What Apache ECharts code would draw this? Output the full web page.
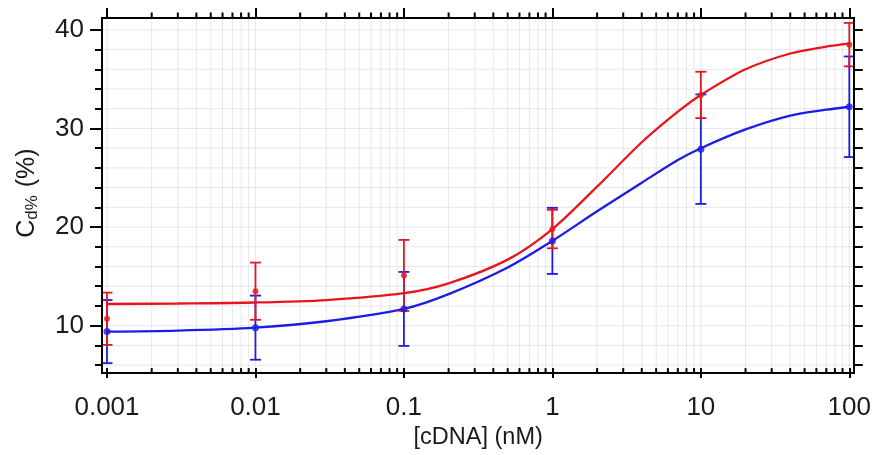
<!DOCTYPE html>
<html>
<head>
<meta charset="utf-8">
<script src="https://cdn.jsdelivr.net/npm/echarts@6/dist/echarts.min.js"></script>
<style>
  html, body { margin: 0; padding: 0; background: #ffffff; }
  #chart { width: 874px; height: 455px; }
</style>
</head>
<body>
<div id="chart"></div>
<script>
// Measured points: concentration (nM), mean Cd% and error half-width
const concentrations = [0.001, 0.01, 0.1, 1, 10, 100];
const redMean  = [10.7, 13.5, 15.1, 19.8, 33.4, 38.5];
const redErr   = [2.65, 2.9, 3.6, 1.95, 2.35, 2.2];
const blueMean = [9.4, 9.8, 11.7, 18.6, 27.9, 32.2];
const blueErr  = [3.2, 3.25, 3.75, 3.35, 5.55, 5.1];

// Fitted dose-response curves, sampled along the concentration axis
const fitConc = [0.001, 0.003, 0.01, 0.03, 0.1, 0.2, 0.5, 1, 2, 4, 7, 10, 20, 40, 70, 100];
const redFit  = [12.2, 12.25, 12.35, 12.6, 13.3, 14.3, 16.7, 19.8, 24.1, 28.6, 31.7, 33.4, 36.0, 37.6, 38.3, 38.6];
const blueFit = [9.4, 9.5, 9.8, 10.45, 11.7, 13.2, 15.9, 18.6, 21.6, 24.5, 26.8, 28.0, 29.9, 31.3, 31.9, 32.2];

// Axis ticks
const xMajorTicks = [0.001, 0.01, 0.1, 1, 10, 100];
const xTickLabels = ['0.001', '0.01', '0.1', '1', '10', '100'];
const yMajorTicks = [10, 20, 30, 40];
const yMinorTicks = [6, 8, 12, 14, 16, 18, 22, 24, 26, 28, 32, 34, 36, 38];
const yAllTicks   = [6, 8, 10, 12, 14, 16, 18, 20, 22, 24, 26, 28, 30, 32, 34, 36, 38, 40];

const X_MIN = 0.001, X_MAX = 100;
const Y_MIN = 5.7, Y_MAX = 41.2;

// 2..9 subdivisions inside every decade of the log axis
const xMinorTicks = [];
for (let d = 0; d < xMajorTicks.length - 1; d++) {
  for (let m = 2; m <= 9; m++) xMinorTicks.push(+(xMajorTicks[d] * m).toPrecision(6));
}
const xAllTicks = xMajorTicks.concat(xMinorTicks);

const RED = '#e8161c';
const BLUE = '#1c1ce6';
const GRID_COLOR = 'rgba(150,158,200,0.24)';
const FONT = '"Liberation Sans", Arial, sans-serif';
const TEXT = '#1a1a1a';

const chart = echarts.init(document.getElementById('chart'), null, { renderer: 'canvas' });

function toPairs(xs, ys) { return xs.map((x, i) => [x, ys[i]]); }
function toErr(xs, m, e) { return xs.map((x, i) => [x, m[i], e[i]]); }

function errorBarSeries(name, data, color) {
  return {
    name: name,
    type: 'custom',
    xAxisIndex: 0, yAxisIndex: 0,
    clip: false,
    data: data,
    encode: { x: 0, y: 1 },
    renderItem: function (params, api) {
      const x = api.value(0), m = api.value(1), e = api.value(2);
      const top = api.coord([x, m + e]);
      const bot = api.coord([x, m - e]);
      const hw = 5.5;
      const st = { stroke: color, lineWidth: 1.8 };
      return {
        type: 'group',
        children: [
          { type: 'line', shape: { x1: top[0], y1: top[1], x2: bot[0], y2: bot[1] }, style: st },
          { type: 'line', shape: { x1: top[0] - hw, y1: top[1], x2: top[0] + hw, y2: top[1] }, style: st },
          { type: 'line', shape: { x1: bot[0] - hw, y1: bot[1], x2: bot[0] + hw, y2: bot[1] }, style: st }
        ]
      };
    },
    z: 3
  };
}

// Faint grid lines at every tick plus minor x ticks on the bottom and top edges
const furnitureSeries = {
  type: 'custom',
  xAxisIndex: 0, yAxisIndex: 0,
  clip: false,
  silent: true,
  data: [[1, 20]],
  renderItem: function (params, api) {
    const children = [];
    const gl = { stroke: GRID_COLOR, lineWidth: 1 };
    xAllTicks.forEach(function (v) {
      const a = api.coord([v, Y_MIN]);
      const b = api.coord([v, Y_MAX]);
      children.push({ type: 'line', shape: { x1: a[0], y1: a[1], x2: b[0], y2: b[1] }, style: gl });
    });
    yAllTicks.forEach(function (v) {
      const a = api.coord([X_MIN, v]);
      const b = api.coord([X_MAX, v]);
      children.push({ type: 'line', shape: { x1: a[0] - 5, y1: a[1], x2: b[0] + 5, y2: b[1] }, style: gl });
    });
    const tk = { stroke: '#000', lineWidth: 2 };
    xMinorTicks.forEach(function (v) {
      const a = api.coord([v, Y_MIN]);
      const b = api.coord([v, Y_MAX]);
      children.push({ type: 'line', shape: { x1: a[0], y1: a[1], x2: a[0], y2: a[1] + 5.5 }, style: tk });
      children.push({ type: 'line', shape: { x1: b[0], y1: b[1], x2: b[0], y2: b[1] - 5.5 }, style: tk });
    });
    return { type: 'group', children: children };
  },
  z: 1
};

const option = {
  animation: false,
  backgroundColor: '#ffffff',
  textStyle: { fontFamily: FONT },
  grid: [
    { left: 107, right: 24.5, top: 18, bottom: 82, show: false },
    { left: 102, right: 20, top: 18, bottom: 82, show: true, borderColor: '#000', borderWidth: 2, backgroundColor: 'transparent', z: 5 }
  ],
  xAxis: [
    {
      gridIndex: 0, type: 'log', logBase: 10, min: X_MIN, max: X_MAX, position: 'bottom',
      axisLine: { show: false },
      axisTick: { show: true, length: 10, lineStyle: { color: '#000', width: 2 } },
      axisLabel: {
        show: true, fontSize: 26, color: TEXT, margin: 27, fontFamily: FONT,
        formatter: function (v) {
          const i = xMajorTicks.findIndex(function (t) { return Math.abs(Math.log10(t) - Math.log10(v)) < 1e-6; });
          return i >= 0 ? xTickLabels[i] : '';
        }
      },
      splitLine: { show: false },
      name: '[cDNA] (nM)', nameLocation: 'middle', nameGap: 53,
      nameTextStyle: { fontSize: 23.5, color: TEXT, fontFamily: FONT }
    },
    {
      gridIndex: 0, type: 'log', logBase: 10, min: X_MIN, max: X_MAX, position: 'top',
      axisLine: { show: false },
      axisTick: { show: true, length: 10, lineStyle: { color: '#000', width: 2 } },
      axisLabel: { show: false },
      splitLine: { show: false }
    },
    { gridIndex: 1, type: 'value', min: 0, max: 1, show: false }
  ],
  yAxis: [
    {
      gridIndex: 0, type: 'value', min: Y_MIN, max: Y_MAX, position: 'left', offset: 5,
      axisLine: { show: false },
      axisTick: { show: true, length: 12, customValues: yMajorTicks, lineStyle: { color: '#000', width: 2 } },
      axisLabel: { show: true, customValues: yMajorTicks, fontSize: 26, color: TEXT, margin: 18, fontFamily: FONT },
      splitLine: { show: false },
      name: '{a|C}{b|d%}{a| (%)}', nameLocation: 'middle', nameGap: 60,
      nameTextStyle: {
        fontFamily: FONT, color: TEXT,
        rich: {
          a: { fontSize: 25, fontFamily: FONT, color: TEXT, lineHeight: 30, verticalAlign: 'middle' },
          b: { fontSize: 17, fontFamily: FONT, color: TEXT, lineHeight: 30, verticalAlign: 'middle', padding: [11, 1, 0, 0] }
        }
      }
    },
    {
      gridIndex: 0, type: 'value', min: Y_MIN, max: Y_MAX, position: 'left', offset: 5,
      axisLine: { show: false },
      axisTick: { show: true, length: 7, customValues: yMinorTicks, lineStyle: { color: '#000', width: 2 } },
      axisLabel: { show: false },
      splitLine: { show: false }
    },
    {
      gridIndex: 0, type: 'value', min: Y_MIN, max: Y_MAX, position: 'right', offset: 4.5,
      axisLine: { show: false },
      axisTick: { show: true, length: 9, customValues: yAllTicks, lineStyle: { color: '#000', width: 2 } },
      axisLabel: { show: false },
      splitLine: { show: false }
    },
    { gridIndex: 1, type: 'value', min: 0, max: 1, show: false }
  ],
  series: [
    furnitureSeries,
    {
      name: 'blue fit', type: 'line', xAxisIndex: 0, yAxisIndex: 0,
      data: toPairs(fitConc, blueFit), smooth: 0.3, showSymbol: false, symbol: 'none',
      lineStyle: { color: BLUE, width: 2.3 }, z: 2
    },
    errorBarSeries('blue error', toErr(concentrations, blueMean, blueErr), BLUE),
    {
      name: 'blue mean', type: 'scatter', xAxisIndex: 0, yAxisIndex: 0,
      data: toPairs(concentrations, blueMean), symbol: 'circle', symbolSize: 7,
      itemStyle: { color: BLUE }, z: 4
    },
    {
      name: 'red fit', type: 'line', xAxisIndex: 0, yAxisIndex: 0,
      data: toPairs(fitConc, redFit), smooth: 0.3, showSymbol: false, symbol: 'none',
      lineStyle: { color: RED, width: 2.3 }, z: 2
    },
    errorBarSeries('red error', toErr(concentrations, redMean, redErr), RED),
    {
      name: 'red mean', type: 'scatter', xAxisIndex: 0, yAxisIndex: 0,
      data: toPairs(concentrations, redMean), symbol: 'circle', symbolSize: 6,
      itemStyle: { color: RED }, z: 4
    }
  ]
};

chart.setOption(option);
</script>
</body>
</html>
